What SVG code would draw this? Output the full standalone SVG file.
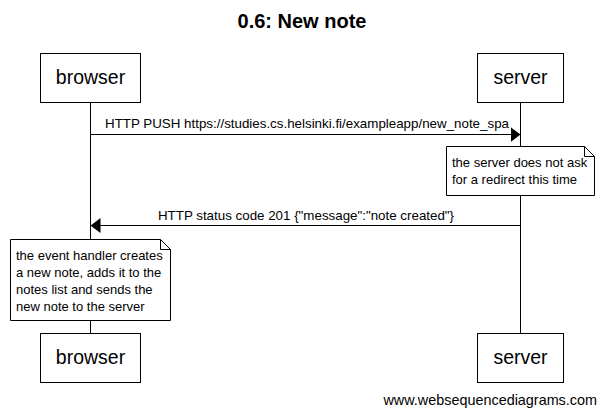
<svg xmlns="http://www.w3.org/2000/svg" width="604" height="416" viewBox="0 0 604 416">
<style>
  text { font-family: "Liberation Sans", Arial, sans-serif; fill: #000; }
  .title { font-size: 20px; font-weight: bold; text-anchor: middle; }
  .actor rect { fill: #fff; stroke: #000; stroke-width: 1; }
  .actor text { font-size: 19.5px; text-anchor: middle; }
  .life { stroke: #000; stroke-width: 1; fill: none; }
  .msg { stroke: #000; stroke-width: 1; fill: none; marker-end: url(#head); }
  .lbl { font-size: 13.35px; text-anchor: middle; }
  .note path { fill: #fff; stroke: #000; stroke-width: 1; }
  .note text { font-size: 13px; }
  .wm { font-size: 14.4px; text-anchor: end; }
</style>
<defs>
  <marker id="head" markerUnits="userSpaceOnUse" markerWidth="10" markerHeight="16" refX="10" refY="8" orient="auto">
    <path d="M0,0.5 L10,8 L0,15.5 z" fill="#000"/>
  </marker>
</defs>
<rect width="604" height="416" fill="#fff"/>
<text class="title" x="302" y="28">0.6: New note</text>

<g id="connectors">
  <line class="life" x1="90.5" y1="102" x2="90.5" y2="333"/>
  <line class="life" x1="520.5" y1="102" x2="520.5" y2="333"/>
  <line class="msg" x1="90.5" y1="134.5" x2="520.5" y2="134.5"/>
  <text class="lbl" x="307" y="128">HTTP PUSH https://studies.cs.helsinki.fi/exampleapp/new_note_spa</text>
  <line class="msg" x1="520.5" y1="225.5" x2="90.5" y2="225.5"/>
  <text class="lbl" x="306" y="220">HTTP status code 201 {"message":"note created"}</text>
</g>

<g id="browser-top" class="actor">
  <rect x="40.5" y="53.5" width="100" height="49"/>
  <text x="90.5" y="84">browser</text>
</g>
<g id="server-top" class="actor">
  <rect x="477.5" y="53.5" width="86" height="49"/>
  <text x="520.5" y="84">server</text>
</g>

<g id="note-server" class="note">
  <path d="M446.5,146.5 H584.5 L594.5,156.5 V195.5 H446.5 Z M584.5,146.5 V156.5 H594.5"/>
  <text x="452" y="167">the server does not ask</text>
  <text x="452" y="184">for a redirect this time</text>
</g>

<g id="note-browser" class="note">
  <path d="M10.5,239.5 H160.5 L170.5,249.5 V320.5 H10.5 Z M160.5,239.5 V249.5 H170.5"/>
  <text x="16" y="260">the event handler creates</text>
  <text x="16" y="277">a new note, adds it to the</text>
  <text x="16" y="294">notes list and sends the</text>
  <text x="16" y="311">new note to the server</text>
</g>

<g id="browser-bottom" class="actor">
  <rect x="40.5" y="333.5" width="100" height="49"/>
  <text x="90.5" y="364">browser</text>
</g>
<g id="server-bottom" class="actor">
  <rect x="477.5" y="333.5" width="86" height="49"/>
  <text x="520.5" y="364">server</text>
</g>

<text class="wm" x="597" y="405">www.websequencediagrams.com</text>
</svg>
